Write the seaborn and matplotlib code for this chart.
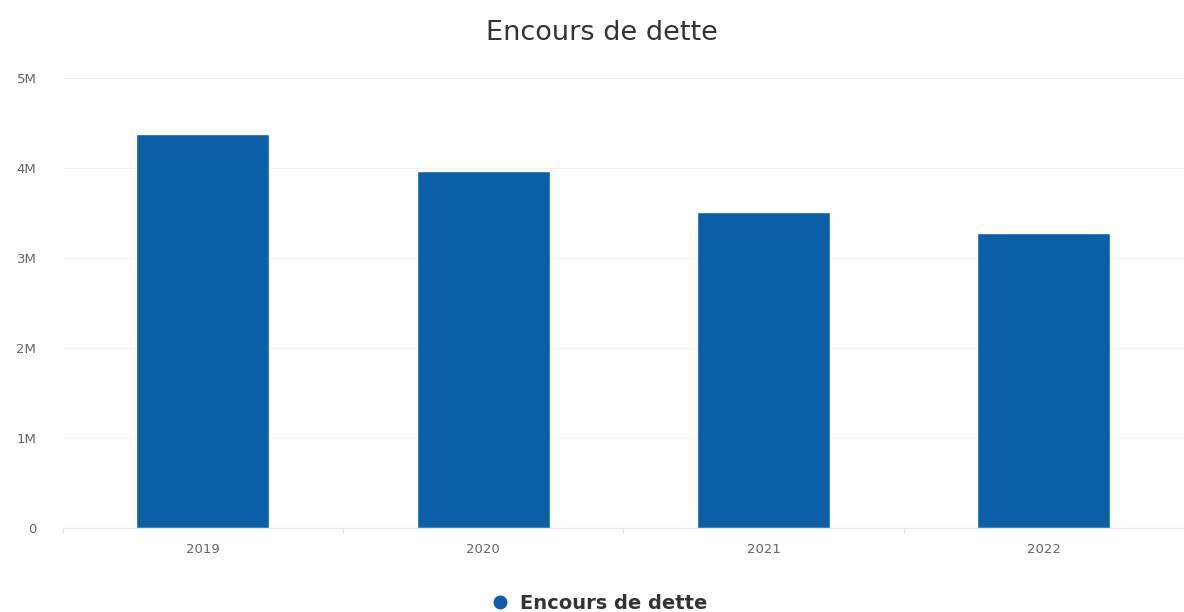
import matplotlib
matplotlib.use("Agg")
import matplotlib.pyplot as plt
from matplotlib.ticker import FuncFormatter
from matplotlib.lines import Line2D
import seaborn as sns
import pandas as pd

# data
annees = ["2019", "2020", "2021", "2022"]
encours = [4.37e6, 3.96e6, 3.51e6, 3.28e6]

df = pd.DataFrame({"annee": annees, "encours": encours})

sns.set_style("white")
plt.rcParams['font.family'] = ['DejaVu Sans']

fig = plt.figure(figsize=(11.84, 6.12), dpi=100)
ax = fig.add_axes([0.053, 0.137, 0.947, 0.736])

sns.barplot(data=df, x="annee", y="encours", color="#0b5fa7", width=0.475,
            saturation=1, ax=ax)

ax.set_ylim(0, 5e6)
ax.set_xlim(-0.5, 3.5)
ax.set_yticks([0, 1e6, 2e6, 3e6, 4e6, 5e6])
ax.yaxis.set_major_formatter(FuncFormatter(lambda v, p: "0" if v == 0 else f"{int(v/1e6)}M"))
ax.grid(axis="y", color="#f2f2f2", linewidth=0.8)
ax.set_axisbelow(True)
for s in ["top", "right", "left"]:
    ax.spines[s].set_visible(False)
ax.spines["bottom"].set_color("#e0e6f0")
ax.tick_params(axis="y", length=0, labelsize=9.5, labelcolor="#666666", pad=19)
ax.tick_params(axis="x", length=0, labelsize=9.5, labelcolor="#666666", pad=11)
ax.set_xlabel("")
ax.set_ylabel("")

# category boundary ticks
for b in [-0.5, 0.5, 1.5, 2.5]:
    ax.plot([b, b], [0, -0.05e6], color="#e0e6f0", lw=0.8, clip_on=False)

fig.suptitle("Encours de dette", x=0.508, y=0.967, fontsize=19.5, color="#333333")

handle = Line2D([], [], marker="o", linestyle="", color="#0b5fa7", markersize=9)
leg = fig.legend([handle], ["Encours de dette"], loc="center", frameon=False,
                 prop={"weight": "bold", "size": 14}, labelcolor="#333333",
                 handletextpad=0.4, handlelength=1.2)
leg.set_bbox_to_anchor((0.505, 0.014), transform=fig.transFigure)

fig.savefig("out.png", dpi=100)
